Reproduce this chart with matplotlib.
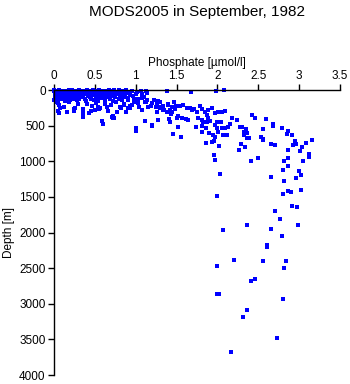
import matplotlib
matplotlib.use('Agg')
import matplotlib.pyplot as plt

plt.rcParams['font.family'] = ['Liberation Sans', 'DejaVu Sans']

# phosphate [umol/l] and depth [m], MODS2005 stations, September 1982
# near-surface cloud
surf_p = [0.00, 0.02, 0.03, 0.05, 0.06, 0.08, 0.09, 0.11, 0.12, 0.14, 0.15, 0.17, 0.18, 0.20,
          0.21, 0.23, 0.24, 0.26, 0.27, 0.29, 0.30, 0.32, 0.33, 0.35, 0.37, 0.38, 0.40, 0.41,
          0.43, 0.44, 0.46, 0.47, 0.49, 0.50, 0.52, 0.53, 0.55, 0.57, 0.58, 0.60, 0.61, 0.63,
          0.65, 0.66, 0.68, 0.70, 0.71, 0.73, 0.75, 0.76, 0.78, 0.80, 0.81, 0.83, 0.85, 0.87,
          0.88, 0.90, 0.92, 0.95, 0.97, 1.00, 1.03, 1.06, 1.10, 1.14,
          0.01, 0.01, 0.02, 0.04, 0.04, 0.07, 0.07, 0.10, 0.10, 0.13, 0.13, 0.16, 0.16, 0.19,
          0.19, 0.22, 0.22, 0.25, 0.25, 0.28, 0.28, 0.31, 0.31, 0.34, 0.36, 0.36, 0.39, 0.39,
          0.42, 0.42, 0.45, 0.45, 0.48, 0.48, 0.51, 0.51, 0.54, 0.54, 0.56, 0.59, 0.59, 0.62,
          0.62, 0.64, 0.67, 0.67, 0.69, 0.72, 0.72, 0.74, 0.77, 0.79, 0.79, 0.82, 0.84, 0.86,
          0.89, 0.91, 0.93, 0.96, 0.98, 1.02, 1.08,
          0.00, 0.01, 0.02, 0.03, 0.04, 0.05, 0.06, 0.08, 0.09, 0.11, 0.12, 0.14, 0.15, 0.17,
          0.18, 0.20, 0.21, 0.23, 0.24, 0.26, 0.27, 0.29, 0.00, 0.02, 0.05, 0.07, 0.10, 0.13,
          0.16, 0.19, 0.22, 0.25, 0.28, 0.03, 0.06, 0.09, 0.12, 0.15, 0.18, 0.21, 0.24, 0.27]
surf_d = [5, 30, 12, 48, 3, 22, 70, 8, 38, 95, 15, 55, 2, 28,
          80, 10, 45, 110, 18, 62, 4, 35, 90, 14, 50, 125, 6, 72,
          25, 100, 9, 58, 140, 20, 42, 85, 3, 66, 115, 16, 40, 95,
          8, 52, 130, 24, 75, 5, 105, 36, 60, 12, 88, 145, 30, 70,
          2, 110, 45, 18, 80, 55, 120, 10, 95, 35,
          65, 110, 90, 130, 25, 40, 100, 15, 125, 60, 150, 30, 85, 42,
          135, 5, 65, 95, 28, 140, 48, 20, 120, 70, 8, 105, 45, 160,
          15, 88, 130, 35, 75, 4, 115, 60, 28, 150, 92, 50, 10, 135,
          70, 30, 100, 5, 48, 150, 14, 90, 40, 125, 2, 65, 20, 100,
          38, 140, 72, 8, 130, 28, 62,
          18, 45, 75, 10, 100, 35, 60, 85, 20, 115, 50, 70, 30, 105,
          90, 55, 120, 25, 75, 40, 95, 60, 140, 120, 10, 130, 55, 20,
          110, 65, 100, 15, 80, 95, 25, 45, 115, 70, 15, 40, 120, 85]

# scattered points down to ~700 m
mid_p = [0.03, 0.05, 0.06, 0.12, 0.18, 0.24, 0.29, 0.35, 0.40, 0.47, 0.52, 0.55, 0.62, 0.66,
         0.70, 0.76, 0.82, 0.86, 0.93, 0.98, 1.04, 1.08, 1.12,
         0.053, 0.073, 0.057, 0.163, 0.245, 0.257, 0.359, 0.359, 0.432, 0.453, 0.502, 0.542,
         0.563, 0.584, 0.603, 0.645, 0.706, 0.718, 0.726, 0.734, 0.775, 0.808, 0.860, 0.881,
         0.909, 0.930, 0.951, 1.000, 1.007, 1.032, 1.073, 1.135, 1.154, 1.203, 1.257, 1.297,
         1.338, 1.379, 1.399, 1.441, 1.481, 1.514,
         1.379, 1.681, 1.983, 2.077, 1.126, 1.135, 1.114, 1.196, 1.228, 1.269, 1.294, 1.187,
         1.252, 1.297, 1.257, 1.338, 1.350, 1.392, 1.420, 1.441, 1.432, 1.472, 1.493, 1.542,
         1.583, 1.624, 1.665, 1.685, 1.717, 1.747, 1.521, 1.563, 1.612, 1.644, 1.502, 1.408,
         1.420, 1.277, 1.114, 1.203, 1.787, 1.808, 1.848, 1.889, 1.930, 1.971, 2.011, 2.053,
         2.093, 1.869, 1.889, 1.909, 1.766, 1.808, 1.827, 1.869, 1.815, 1.857, 1.991, 2.044,
         1.971, 1.991, 2.011, 1.950, 1.971, 2.053, 2.093, 2.126, 2.154, 2.182, 2.236, 2.114,
         2.072, 2.297, 1.460, 1.554, 1.738, 1.901, 1.808,
         2.277, 2.427, 2.460, 2.591, 2.681, 2.684, 2.562, 2.794, 2.860, 2.852, 2.909, 2.354,
         2.322, 2.322, 2.366, 2.387, 2.359, 2.534, 2.562]
mid_d = [170, 290, 210, 240, 175, 300, 190, 260, 200, 230, 180, 270, 195, 300,
         215, 165, 250, 190, 220, 170, 240, 280, 175,
         187, 248, 319, 313, 267, 257, 327, 383, 319, 290, 281, 234,
         257, 435, 482, 234, 374, 397, 365, 393, 305, 234, 211, 305,
         257, 257, 211, 538, 571, 187, 117, 140, 234, 491, 187, 234,
         281, 305, 211, 234, 271, 524,
         14, 24, 14, 4, 14, 140, 173, 187, 140, 154, 173, 220,
         234, 257, 305, 220, 285, 192, 281, 305, 341, 164, 220, 229,
         211, 257, 248, 281, 267, 305, 361, 389, 407, 421, 397, 411,
         445, 421, 435, 501, 220, 267, 305, 281, 257, 327, 313, 305,
         295, 351, 397, 435, 397, 421, 445, 453, 501, 538, 453, 445,
         491, 538, 585, 632, 656, 538, 529, 515, 482, 389, 421, 632,
         632, 515, 622, 656, 515, 608, 594,
         519, 355, 397, 411, 482, 510, 543, 529, 571, 614, 636, 552,
         585, 632, 608, 674, 670, 664, 692]

# deep water, below ~700 m
deep_p = [1.857, 1.930, 1.958, 2.016, 2.293, 2.341, 2.268, 2.562, 2.660, 2.705, 2.922, 2.962,
          2.953, 3.039, 3.081, 3.162, 2.860, 3.015, 3.121, 3.125, 1.962, 1.974, 2.411, 2.501,
          2.864, 2.819, 3.051, 2.860, 2.807, 3.002, 3.020, 2.035, 2.660, 2.811, 2.958, 3.020,
          2.860, 2.901, 2.799, 1.999, 2.709, 2.917, 2.978, 2.763, 2.366, 2.660, 2.990, 2.072,
          2.794, 2.611, 2.611, 2.207, 2.562, 2.836, 2.819, 1.999, 2.464, 2.415, 2.016, 1.995,
          2.799, 2.366, 2.317, 2.733, 2.163]
deep_d = [748, 726, 716, 790, 762, 804, 846, 702, 762, 776, 768, 758,
          712, 800, 748, 702, 846, 860, 902, 940, 916, 987, 992, 950,
          950, 992, 1001, 1071, 1119, 1133, 1189, 1183, 1225, 1281, 1239, 1408,
          1422, 1436, 1464, 1484, 1702, 1628, 1646, 1815, 1899, 1955, 1895, 1969,
          2053, 2175, 2203, 2382, 2404, 2404, 2494, 2474, 2648, 2685, 2867, 2867,
          2938, 3092, 3190, 3476, 3681]

phosphate = surf_p + mid_p + deep_p
depth = surf_d + mid_d + deep_d

fig = plt.figure(figsize=(3.5, 3.84), dpi=100)
ax = fig.add_axes([0.1543, 0.0234, 0.8171, 0.7422])

ax.plot(phosphate, depth, 's', color='#0000ff', markersize=2.3,
        markeredgewidth=0, clip_on=False)

ax.set_xlim(0, 3.5)
ax.set_ylim(4000, 0)
ax.set_xticks([0, 0.5, 1, 1.5, 2, 2.5, 3, 3.5])
ax.set_xticklabels(['0', '0.5', '1', '1.5', '2', '2.5', '3', '3.5'])
ax.set_yticks(range(0, 4001, 500))

ax.xaxis.tick_top()
ax.xaxis.set_label_position('top')
ax.spines['right'].set_visible(False)
ax.spines['bottom'].set_visible(False)
ax.spines['top'].set_linewidth(1.0)
ax.spines['left'].set_linewidth(1.0)
ax.tick_params(direction='out', length=4, width=1.0, labelsize=8.5, pad=2)

ax.set_xlabel('Phosphate [\u00b5mol/l]', fontsize=8.5, labelpad=3)
ax.set_ylabel('Depth [m]', fontsize=8.5, labelpad=3)

fig.text(0.563, 0.968, 'MODS2005 in September, 1982', ha='center', va='center',
         fontsize=11)

fig.savefig('out.png', dpi=100)
